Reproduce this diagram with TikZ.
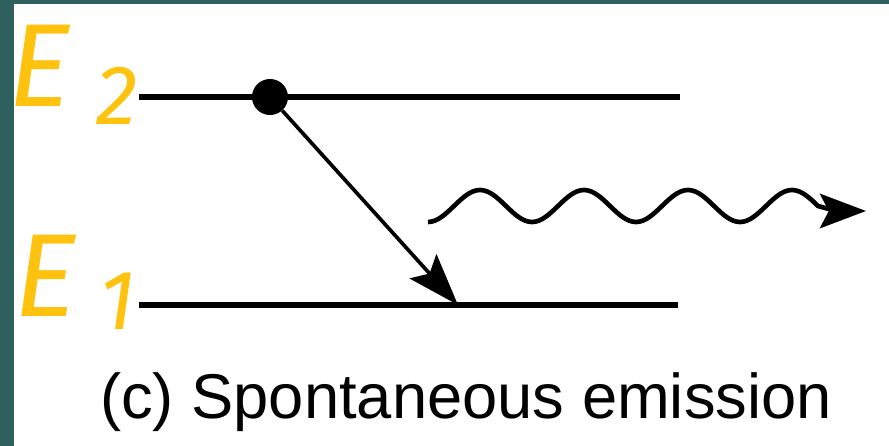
\documentclass[tikz,border=0pt]{standalone}
\usepackage{fontspec}
\setmainfont{Liberation Sans}
\newfontfamily\handfont{Fira Sans}
\usetikzlibrary{arrows.meta}
\definecolor{frameteal}{RGB}{46,96,94}
\definecolor{penyellow}{RGB}{255,194,14}

\begin{document}
\begin{tikzpicture}[x=0.025cm, y=-0.025cm, level/.style={line width=3.6pt}, atomdot/.style={circle, fill=black, inner sep=0pt, minimum size=0.9cm}, decay/.style={-{Stealth[length=13mm, width=9mm, inset=2.4mm]}, line width=2.6pt}, photon/.style={-{Stealth[length=11.5mm, width=8.6mm, inset=2.2mm]}, line width=3.3pt}, handE/.style={text=penyellow, inner sep=0pt, font=\handfont\itshape\fontsize{84}{84}\selectfont}, handnum/.style={text=penyellow, inner sep=0pt, font=\handfont\itshape\fontsize{60}{60}\selectfont}]
\useasboundingbox (0,0) rectangle (889,446);
% slide frame
\fill[frameteal] (0,0) rectangle (14,446);
\fill[frameteal] (0,0) rectangle (889,4);
% energy levels
\coordinate (e2left) at (139,97);
\coordinate (e2right) at (680,97);
\coordinate (e1left) at (139,305);
\coordinate (e1right) at (678,305);
\draw[level] (e2left) -- (e2right);
\draw[level] (e1left) -- (e1right);
\node[handE] (e2name) at (40,66) {E};
\node[handnum] (e2index) at (117,96) {2};
\node[handE] (e1name) at (46,276) {E};
\node[handnum] (e1index) at (118,301) {1};
% electron drops to the lower level
\node[atomdot] (atom) at (270,97) {};
\coordinate (land) at (458,305);
\draw[decay] (atom) -- (land);
% emitted photon
\coordinate (wstart) at (428,222);
\coordinate (wend) at (866,211);
\draw[photon] (wstart) cos (454,206) sin (480,190) cos (506,206) sin (532,222) cos (558,206) sin (584,190) cos (610,206) sin (636,222) cos (662,206) sin (688,190) cos (714,206) sin (740,222) cos (766,206) sin (792,190) cos (818,206) .. controls (836,211) .. (wend);
\node[anchor=base west, inner sep=0pt, font=\fontsize{45}{45}\selectfont] (caption) at (100,418) {(c) Spontaneous emission};
\end{tikzpicture}
\end{document}
